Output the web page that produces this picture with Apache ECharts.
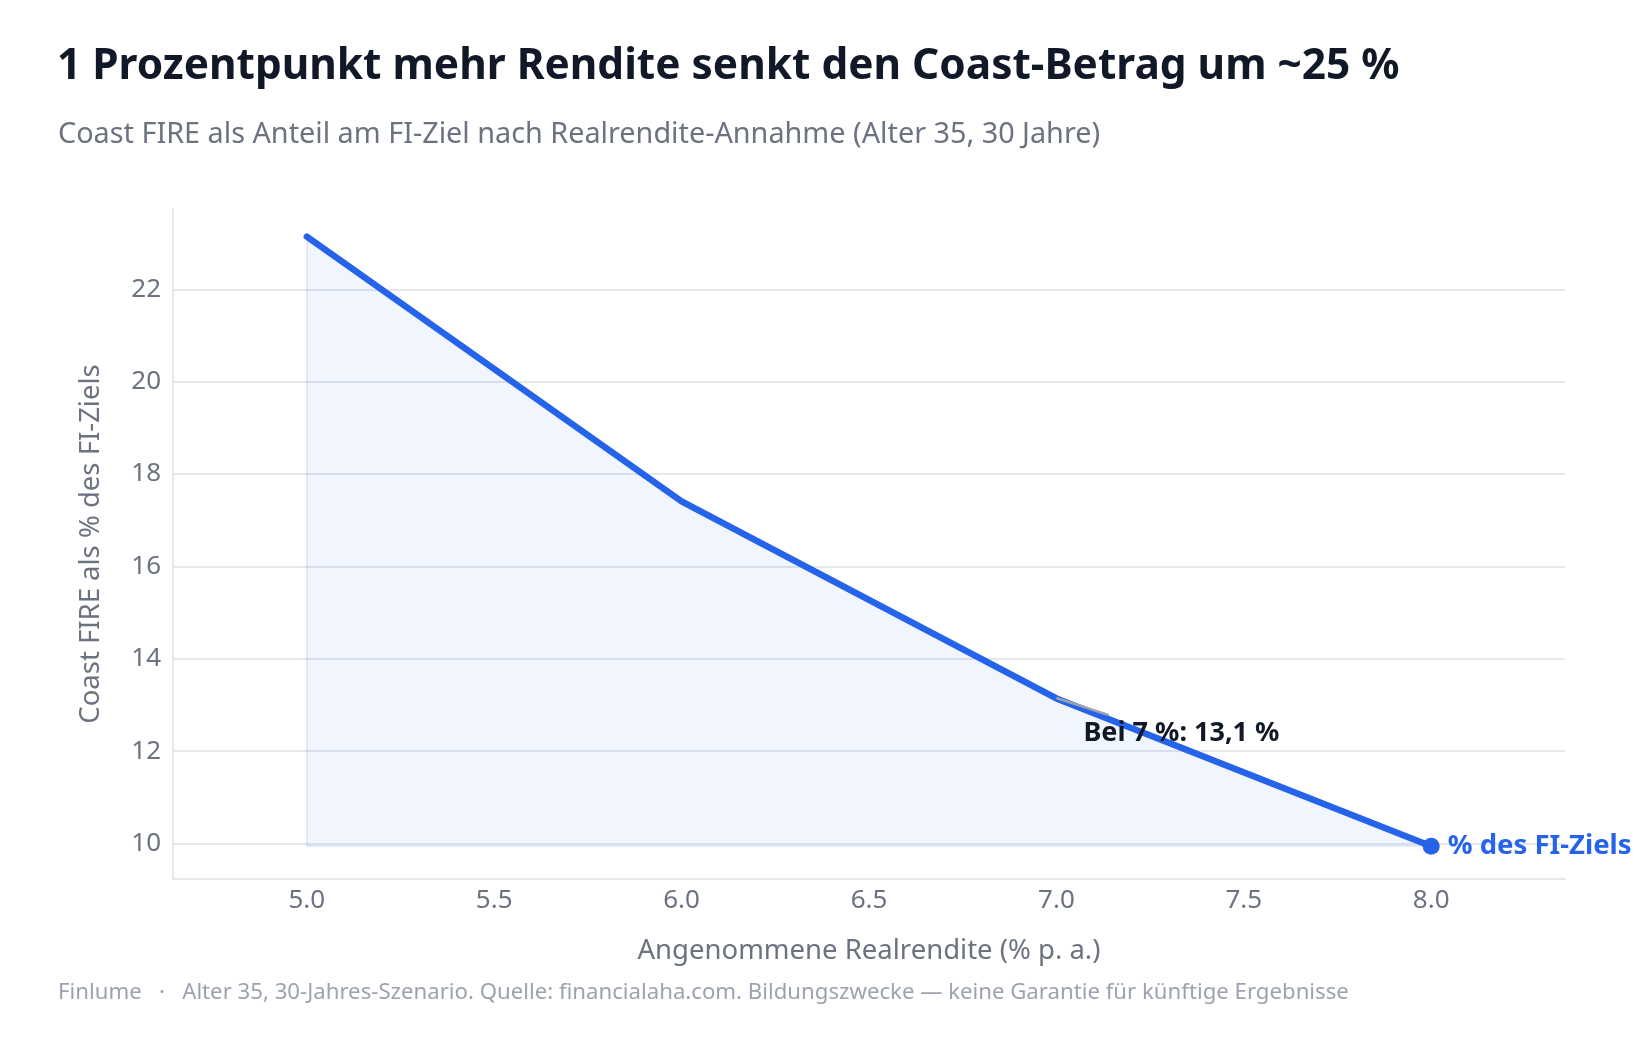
<!DOCTYPE html>
<html>
<head>
<meta charset="utf-8">
<script src="https://cdn.jsdelivr.net/npm/echarts@6/dist/echarts.min.js"></script>
<style>
  html, body { margin: 0; padding: 0; background: #fff; }
  #chart { width: 1639px; height: 1040px; }
</style>
</head>
<body>
<div id="chart"></div>
<script>
// Realrendite-Annahme (% p. a.) und Coast-FIRE-Anteil am FI-Ziel (%)
const renditen = [5.0, 6.0, 7.0, 8.0];
const coastAnteil = [23.14, 17.41, 13.14, 9.94];
const xTicks = [5.0, 5.5, 6.0, 6.5, 7.0, 7.5, 8.0];
const yTicks = [10, 12, 14, 16, 18, 20, 22];
const hinweisPunkt = [7.0, 13.14];
const hinweisPfeil = [[7.0, 13.15], [7.14, 12.78]];

const blue = '#2563eb';
const grid = '#e5e7eb';
const font = 'Noto Sans';

let seriesData = renditen.map((x, i) => {
  let last = i === renditen.length - 1;
  return last
    ? {
        value: [x, coastAnteil[i]],
        symbol: 'circle',
        symbolSize: 17,
        label: {
          show: true,
          position: 'right',
          distance: 8,
          formatter: '% des FI-Ziels',
          color: blue,
          fontFamily: font,
          fontWeight: 700,
          fontSize: 27.5
        }
      }
    : { value: [x, coastAnteil[i]], symbol: 'none' };
});

const base = Math.min(...coastAnteil);

let option = {
  animation: false,
  textStyle: { fontFamily: font },
  title: [
    {
      text: '1 Prozentpunkt mehr Rendite senkt den Coast-Betrag um ~25 %',
      left: 52,
      top: 41,
      textStyle: { fontFamily: font, fontSize: 42.4, fontWeight: 700, color: '#111827' }
    },
    {
      text: 'Coast FIRE als Anteil am FI-Ziel nach Realrendite-Annahme (Alter 35, 30 Jahre)',
      left: 53,
      top: 115,
      textStyle: { fontFamily: font, fontSize: 28.8, fontWeight: 400, color: '#6b7280' }
    },
    {
      text: 'Finlume   ·   Alter 35, 30-Jahres-Szenario. Quelle: financialaha.com. Bildungszwecke — keine Garantie für künftige Ergebnisse',
      left: 53,
      top: 977,
      textStyle: { fontFamily: font, fontSize: 22.2, fontWeight: 400, color: '#9ca3af' }
    }
  ],
  grid: { left: 173, right: 74, top: 209, bottom: 161, containLabel: false },
  xAxis: {
    type: 'value',
    min: 4.643,
    max: 8.357,
    name: 'Angenommene Realrendite (% p. a.)',
    nameLocation: 'middle',
    nameGap: 58,
    nameTextStyle: { fontFamily: font, fontSize: 27.5, color: '#6b7280' },
    axisLine: { show: true, lineStyle: { color: grid, width: 2 } },
    axisTick: { show: false, customValues: xTicks },
    splitLine: { show: false },
    axisLabel: {
      customValues: xTicks,
      formatter: v => v.toFixed(1),
      margin: 9,
      fontSize: 26,
      color: '#6b7280'
    }
  },
  yAxis: {
    type: 'value',
    min: 9.23,
    max: 23.74,
    name: 'Coast FIRE als % des FI-Ziels',
    nameLocation: 'middle',
    nameRotate: 90,
    nameGap: 68,
    nameTextStyle: { fontFamily: font, fontSize: 27.5, color: '#6b7280' },
    axisLine: { show: true, lineStyle: { color: grid, width: 2 } },
    axisTick: { show: false, customValues: yTicks },
    splitLine: { show: true, lineStyle: { color: grid, width: 2 } },
    axisLabel: {
      customValues: yTicks,
      margin: 12,
      fontSize: 26,
      color: '#6b7280'
    }
  },
  series: [
    {
      type: 'line',
      data: seriesData,
      showSymbol: true,
      lineStyle: { color: blue, width: 6.5, cap: 'round', join: 'round' },
      itemStyle: { color: blue },
      areaStyle: { color: 'rgba(37, 99, 235, 0.09)', origin: base },
      z: 3,
      markLine: {
        silent: true,
        symbol: 'none',
        label: { show: false },
        lineStyle: { type: 'solid' },
        data: [
          [
            { coord: [renditen[0], coastAnteil[0]], lineStyle: { color: 'rgba(37, 99, 235, 0.1)', width: 2 } },
            { coord: [renditen[0], base] }
          ],
          [
            { coord: [renditen[0], base], lineStyle: { color: 'rgba(37, 99, 235, 0.1)', width: 2 } },
            { coord: [renditen[renditen.length - 1], base] }
          ],
          [
            { coord: hinweisPfeil[0], lineStyle: { color: '#9ca3af', width: 2.5 } },
            { coord: hinweisPfeil[1] }
          ]
        ]
      },
      markPoint: {
        silent: true,
        symbol: 'circle',
        symbolSize: 1,
        itemStyle: { color: 'rgba(0,0,0,0)' },
        data: [
          {
            coord: hinweisPunkt,
            label: {
              show: true,
              position: 'inside',
              align: 'left',
              verticalAlign: 'middle',
              offset: [27, 35],
              formatter: 'Bei 7 %: 13,1 %',
              color: '#111827',
              fontFamily: font,
              fontWeight: 700,
              fontSize: 27
            }
          }
        ]
      }
    }
  ]
};

let myChart = echarts.init(document.getElementById('chart'));
myChart.setOption(option);
</script>
</body>
</html>
